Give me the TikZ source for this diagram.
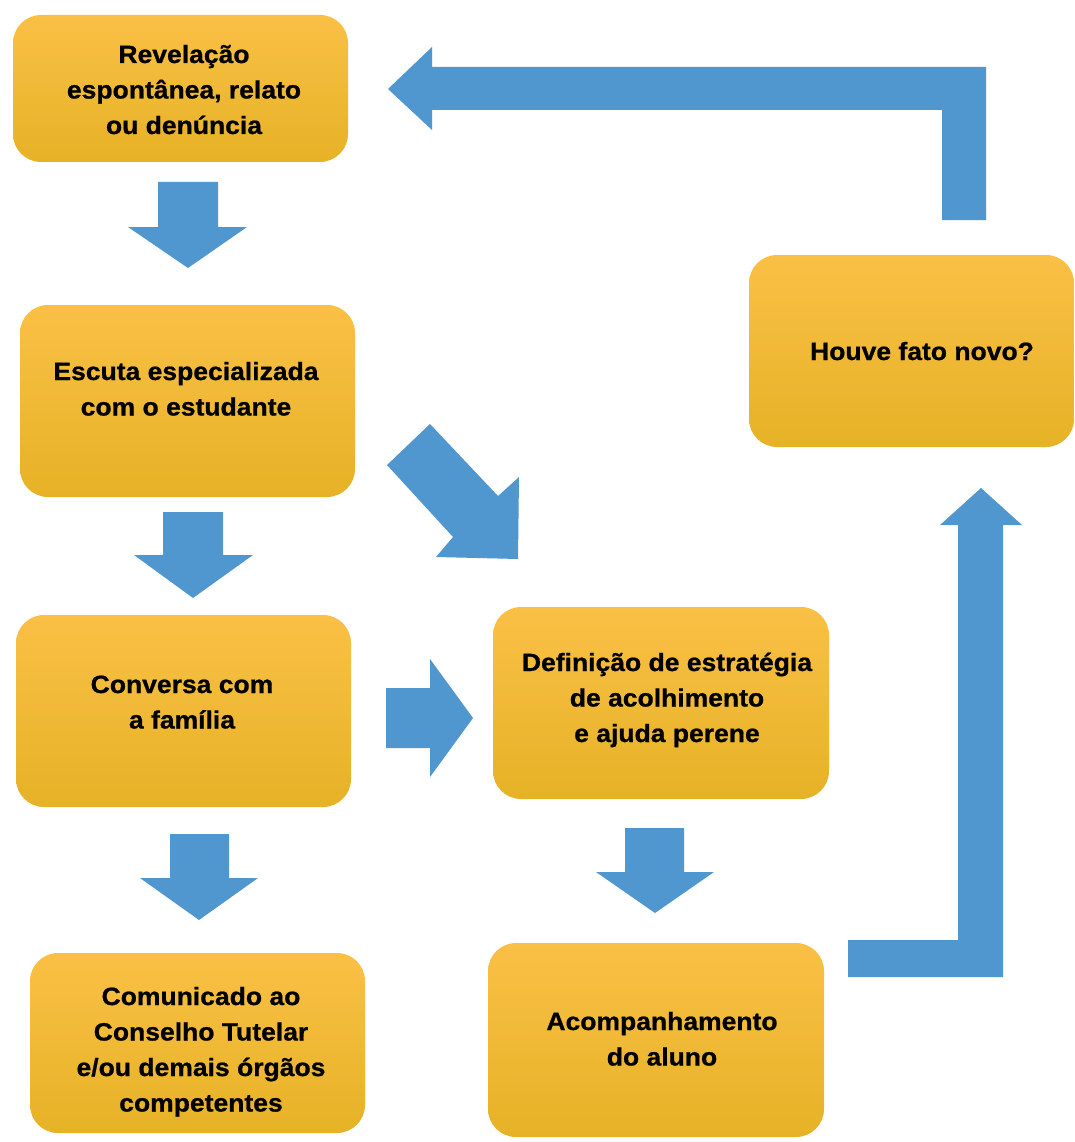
\documentclass[tikz,border=0pt]{standalone}
\usepackage{fontspec}
\setmainfont{Liberation Sans}[FakeStretch=1.06, BoldFeatures={FakeBold=0.8}]
\definecolor{boxtop}{RGB}{250,192,70}
\definecolor{boxmid}{RGB}{254,198,38}
\definecolor{boxbot}{RGB}{230,178,38}
\definecolor{arrowblue}{RGB}{80,151,207}
\tikzset{
  stepbox/.style={rounded corners=28pt, top color=boxtop, middle color=boxmid, bottom color=boxbot, inner sep=0pt, draw=none},
  steptext/.style={anchor=base, inner sep=0pt, font=\fontsize{25}{35.5}\selectfont\bfseries},
  blockarrow/.style={fill=arrowblue, draw=none}
}
\newcommand{\lines}[1]{\begin{tabular}[t]{@{}c@{}}#1\end{tabular}}
\begin{document}
\begin{tikzpicture}[x=1pt,y=-1pt]
\useasboundingbox[fill=white] (0,0) rectangle (1074,1142);
% boxes
\node[stepbox, minimum width=335pt, minimum height=147pt] (b1) at (180.5,88.5) {};
\node[stepbox, minimum width=335pt, minimum height=192pt] (b2) at (187.5,401) {};
\node[stepbox, minimum width=335pt, minimum height=192pt] (b3) at (183.5,711) {};
\node[stepbox, minimum width=336pt, minimum height=192pt] (b4) at (661,703) {};
\node[stepbox, minimum width=335pt, minimum height=180pt] (b5) at (197.5,1043) {};
\node[stepbox, minimum width=336pt, minimum height=194pt] (b6) at (656,1040) {};
\node[stepbox, minimum width=325pt, minimum height=192pt] (b7) at (911.5,351) {};
% texts
\node[steptext] (t1) at (184,63) {\lines{Revelação\\espontânea, relato\\ou denúncia}};
\node[steptext] (t2) at (186,380) {\lines{Escuta especializada\\com o estudante}};
\node[steptext] (t3) at (182,693) {\lines{Conversa com\\a família}};
\node[steptext] (t4) at (667,671) {\lines{Definição de estratégia\\de acolhimento\\e ajuda perene}};
\node[steptext] (t5) at (201,1005) {\lines{Comunicado ao\\Conselho Tutelar\\e/ou demais órgãos\\competentes}};
\node[steptext] (t6) at (662,1030) {\lines{Acompanhamento\\do aluno}};
\node[steptext] (t7) at (922,360) {Houve fato novo?};
% straight down arrows
\fill[blockarrow] (158,182) -- (218,182) -- (218,227) -- (247,227) -- (188,268) -- (128,227) -- (158,227) -- cycle;
\fill[blockarrow] (163,512) -- (223,512) -- (223,555) -- (253,555) -- (193,598) -- (134,555) -- (163,555) -- cycle;
\fill[blockarrow] (170,834) -- (229,834) -- (229,878) -- (258,878) -- (199,920) -- (140,878) -- (170,878) -- cycle;
\fill[blockarrow] (625,828) -- (684,828) -- (684,872) -- (714,872) -- (655,913) -- (596,872) -- (625,872) -- cycle;
% right arrow
\fill[blockarrow] (386,688) -- (430,688) -- (430,659) -- (473,718) -- (430,777) -- (430,748) -- (386,748) -- cycle;
% diagonal arrow
\fill[blockarrow] (387,465) -- (430,424) -- (498,496) -- (519,477) -- (518,559) -- (436,557) -- (453,537) -- cycle;
% bent up arrow
\fill[blockarrow] (848,940) -- (958,940) -- (958,525) -- (940,525) -- (981,488) -- (1022,525) -- (1003,525) -- (1003,977) -- (848,977) -- cycle;
% bent left arrow
\fill[blockarrow] (942,220) -- (942,110) -- (432,110) -- (432,130) -- (388,89) -- (432,47) -- (432,67) -- (986,67) -- (986,220) -- cycle;
\end{tikzpicture}
\end{document}
